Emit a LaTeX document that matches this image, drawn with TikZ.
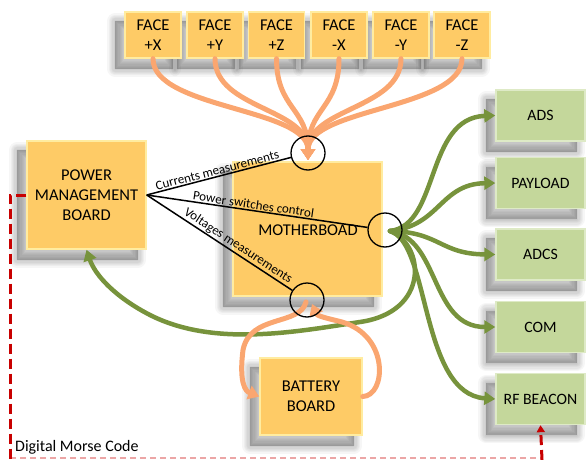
\documentclass[tikz,border=0pt]{standalone}
\usepackage{fontspec}
\setmainfont{Carlito}
\usetikzlibrary{arrows.meta,calc}

\definecolor{boardfill}{RGB}{254,203,102}
\definecolor{boardedge}{RGB}{255,236,160}
\definecolor{unitfill}{RGB}{196,215,155}
\definecolor{unitedge}{RGB}{222,234,198}
\definecolor{powerwire}{RGB}{250,166,112}
\definecolor{databus}{RGB}{119,147,60}
\definecolor{morse}{RGB}{200,0,0}

\pgfdeclarelayer{shadows}
\pgfsetlayers{shadows,main}

\tikzset{
  board/.style={draw=boardedge, fill=boardfill, line width=1.4pt,
      inner sep=0pt, align=center, font=\fontsize{16.5}{20}\selectfont},
  unit/.style={draw=unitedge, fill=unitfill, line width=1.4pt,
      inner sep=0pt, align=center, font=\fontsize{15.8}{19}\selectfont,
      minimum width=89pt, minimum height=51pt},
  face/.style={board, minimum width=56pt, minimum height=46pt},
  shadowlayer/.style={draw=black, fill=black, opacity=0.035, line join=round},
  pwire/.style={draw=powerwire, line width=5pt, line cap=round,
      -{Triangle[length=11pt,width=14pt]}},
  gwire/.style={draw=databus, line width=4.5pt, line cap=round,
      -{Triangle[length=11pt,width=13pt]}},
  hub/.style={circle, draw=black, line width=1.3pt, minimum size=34pt, inner sep=0pt},
  sig/.style={draw=black, line width=1.5pt},
  siglabel/.style={font=\fontsize{13}{15}\selectfont, sloped, above, inner sep=1pt},
  morseline/.style={draw=morse, line width=3pt, dash pattern=on 10pt off 5pt},
}

% soft drop shadow behind a box, offset to the lower left
\newcommand\castshadow[1]{%
  \begin{pgfonlayer}{shadows}
    \foreach \w in {16,13.5,11,8.5,6,3.5,1}
      \path[shadowlayer, line width=\w pt]
        ($(#1.north west)+(-9,10)$) rectangle ($(#1.south east)+(-9,10)$);
  \end{pgfonlayer}}

\begin{document}
\begin{tikzpicture}[x=1pt, y=-1pt]
\useasboundingbox (0,0) rectangle (586,460);

% boards
\node[face] (fpx) at (153,35)   {FACE\\+X};
\node[face] (fpy) at (215,35)   {FACE\\+Y};
\node[face] (fpz) at (276.5,35) {FACE\\+Z};
\node[face] (fmx) at (339,35)   {FACE\\-X};
\node[face] (fmy) at (401,35)   {FACE\\-Y};
\node[face] (fmz) at (462,35)   {FACE\\-Z};

\node[board, minimum width=119pt, minimum height=108pt] (pmb) at (86.5,195)
  {POWER\\MANAGEMENT\\BOARD};
\node[board, minimum width=149pt, minimum height=134pt] (mb) at (307.5,229) {};
\node[font=\fontsize{16.5}{20}\selectfont] (mbtext) at (308,230) {MOTHERBOAD};
\node[board, minimum width=102pt, minimum height=77pt] (bat) at (311,396.5)
  {BATTERY\\BOARD};

% subsystems
\node[unit] (ads) at (540.5,115.5) {ADS};
\node[unit] (pay) at (540.5,183)   {PAYLOAD};
\node[unit] (adcs) at (540.5,254.5) {ADCS};
\node[unit] (com) at (540.5,327)   {COM};
\node[unit] (rf) at (540.5,399)    {RF BEACON};

\foreach \b in {fpx,fpy,fpz,fmx,fmy,fmz,pmb,mb,bat,ads,pay,adcs,com,rf}
  {\castshadow{\b}}

% connection hubs
\coordinate (toptip) at (308,160);
\coordinate (busout) at (390,231);

% data bus from the motherboard
\draw[gwire] (busout) .. controls (440,225) and (425,118) .. (ads.west);
\draw[gwire] (busout) .. controls (440,226) and (440,184) .. (pay.west);
\draw[gwire] (busout) .. controls (440,232) and (440,254) .. (adcs.west);
\draw[gwire] (busout) .. controls (440,238) and (430,327) .. (com.west);
\draw[gwire] (busout) .. controls (430,242) and (420,394) .. (rf.west);
\draw[gwire] (busout) .. controls (425,245) and (430,312) .. (360,322)
  .. controls (300,331) and (215,348) .. (150,315)
  .. controls (115,297) and (95,275) .. (pmb.south);

% solar face power lines
\foreach \f in {fpx,fpy,fpz,fmx,fmy,fmz}
  \draw[pwire] (\f.south) .. controls +(0,50) and (308,108) .. (toptip);

% battery charge / discharge loops
\draw[pwire] (306,302) .. controls (300,326) and (250,314) .. (243,350)
  .. controls (239,382) and (245,391) .. (bat.west);
\draw[pwire] (bat.east) .. controls (386,396) and (390,336) .. (342,322)
  .. controls (326,318) and (317,316) .. (312,304);

% hubs on the motherboard
\node[hub] (htop) at (308,153) {};
\node[hub] (hright) at (385,230) {};
\node[hub] (hbot) at (307,300) {};

% signal lines from the power management board
\draw[sig] (pmb.east) -- node[siglabel, pos=0.5] {Currents measurements} (htop);
\draw[sig] (pmb.east) -- node[siglabel, pos=0.48] {Power switches control} (hright);
\draw[sig] (pmb.east) -- node[siglabel, pos=0.6] {Voltages measurements} (hbot);

% digital morse code link
\coordinate (mcorner) at (10,195);
\coordinate (mbottom) at (10,460);
\coordinate (mleft) at (10,458);
\coordinate (mright) at (542,458);
\coordinate (mend) at (542,460);
\draw[morseline] (pmb.west) -- (mcorner) -- (mbottom);
\draw[draw=morse, opacity=0.35, line width=1.5pt, dash pattern=on 6pt off 4pt]
  (mleft) -- (mright);
\draw[morseline, -{Triangle[length=7pt,width=8pt]}] (mend) -- (rf.south);
\node[anchor=west, font=\fontsize{16}{18}\selectfont, inner sep=0pt] (mlabel)
  at (15,447) {Digital Morse Code};
\end{tikzpicture}
\end{document}
